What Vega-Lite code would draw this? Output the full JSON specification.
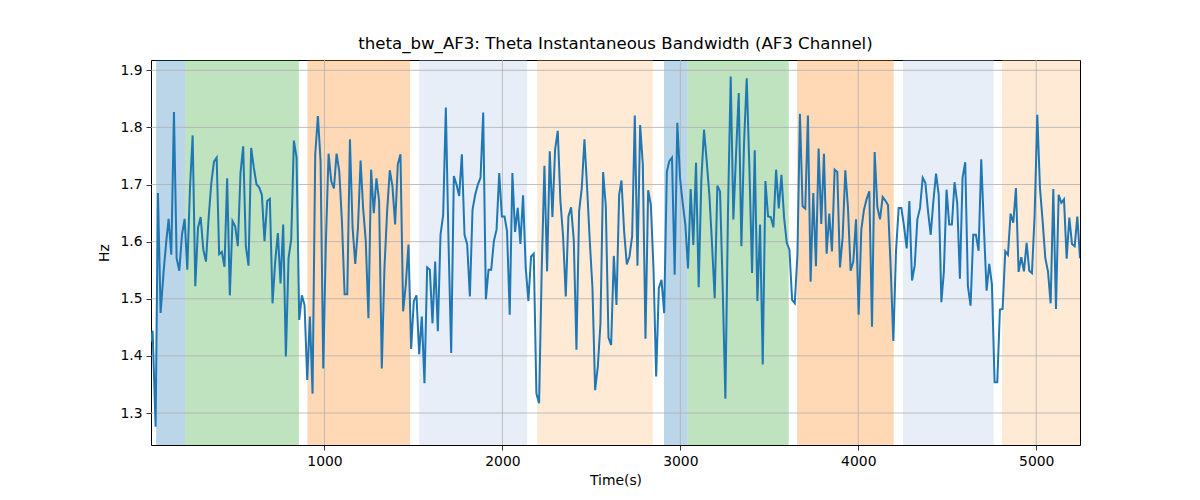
{
  "$schema": "https://vega.github.io/schema/vega-lite/v6.json",
  "width": 929,
  "height": 385,
  "autosize": {"type": "none"},
  "padding": {"left": 151, "top": 60, "right": 120, "bottom": 55},
  "background": "white",
  "title": {
    "text": "theta_bw_AF3: Theta Instantaneous Bandwidth (AF3 Channel)",
    "fontSize": 16.6,
    "fontWeight": "normal",
    "font": "DejaVu Sans",
    "color": "black",
    "offset": 7
  },
  "datasets": {
    "bands": [
      {"start": 54, "end": 217, "phase": "a"},
      {"start": 217, "end": 856, "phase": "b"},
      {"start": 904, "end": 1481, "phase": "c"},
      {"start": 1532, "end": 2139, "phase": "d"},
      {"start": 2195, "end": 2845, "phase": "e"},
      {"start": 2908, "end": 3040, "phase": "a"},
      {"start": 3040, "end": 3609, "phase": "b"},
      {"start": 3656, "end": 4199, "phase": "c"},
      {"start": 4251, "end": 4761, "phase": "d"},
      {"start": 4807, "end": 5246, "phase": "e"}
    ],
    "gridx": [{"v": 1000}, {"v": 2000}, {"v": 3000}, {"v": 4000}, {"v": 5000}],
    "gridy": [{"v": 1.3}, {"v": 1.4}, {"v": 1.5}, {"v": 1.6}, {"v": 1.7}, {"v": 1.8}, {"v": 1.9}],
    "series": [
      {"t": 25, "hz": 1.425}, {"t": 34, "hz": 1.444}, {"t": 51, "hz": 1.276}, {"t": 64, "hz": 1.685},
      {"t": 79, "hz": 1.475}, {"t": 96, "hz": 1.548}, {"t": 111, "hz": 1.601}, {"t": 124, "hz": 1.64},
      {"t": 139, "hz": 1.577}, {"t": 154, "hz": 1.827}, {"t": 169, "hz": 1.571}, {"t": 184, "hz": 1.549},
      {"t": 199, "hz": 1.612}, {"t": 214, "hz": 1.64}, {"t": 229, "hz": 1.551}, {"t": 244, "hz": 1.694},
      {"t": 259, "hz": 1.786}, {"t": 274, "hz": 1.522}, {"t": 289, "hz": 1.624}, {"t": 304, "hz": 1.643},
      {"t": 319, "hz": 1.586}, {"t": 334, "hz": 1.565}, {"t": 349, "hz": 1.642}, {"t": 364, "hz": 1.703},
      {"t": 379, "hz": 1.74}, {"t": 394, "hz": 1.747}, {"t": 408, "hz": 1.578}, {"t": 423, "hz": 1.582},
      {"t": 438, "hz": 1.556}, {"t": 453, "hz": 1.711}, {"t": 468, "hz": 1.506}, {"t": 483, "hz": 1.636},
      {"t": 498, "hz": 1.627}, {"t": 513, "hz": 1.592}, {"t": 528, "hz": 1.72}, {"t": 543, "hz": 1.767},
      {"t": 558, "hz": 1.592}, {"t": 573, "hz": 1.558}, {"t": 588, "hz": 1.764}, {"t": 603, "hz": 1.729},
      {"t": 618, "hz": 1.7}, {"t": 633, "hz": 1.695}, {"t": 648, "hz": 1.682}, {"t": 663, "hz": 1.601},
      {"t": 678, "hz": 1.671}, {"t": 693, "hz": 1.675}, {"t": 708, "hz": 1.492}, {"t": 723, "hz": 1.565},
      {"t": 738, "hz": 1.615}, {"t": 753, "hz": 1.527}, {"t": 768, "hz": 1.63}, {"t": 783, "hz": 1.399},
      {"t": 798, "hz": 1.571}, {"t": 813, "hz": 1.604}, {"t": 828, "hz": 1.777}, {"t": 843, "hz": 1.747},
      {"t": 858, "hz": 1.463}, {"t": 873, "hz": 1.506}, {"t": 888, "hz": 1.489}, {"t": 903, "hz": 1.358},
      {"t": 918, "hz": 1.469}, {"t": 933, "hz": 1.334}, {"t": 948, "hz": 1.753}, {"t": 963, "hz": 1.82},
      {"t": 978, "hz": 1.741}, {"t": 993, "hz": 1.378}, {"t": 1008, "hz": 1.601}, {"t": 1023, "hz": 1.754},
      {"t": 1038, "hz": 1.706}, {"t": 1053, "hz": 1.693}, {"t": 1068, "hz": 1.754}, {"t": 1083, "hz": 1.723},
      {"t": 1098, "hz": 1.636}, {"t": 1113, "hz": 1.508}, {"t": 1128, "hz": 1.508}, {"t": 1143, "hz": 1.779},
      {"t": 1158, "hz": 1.624}, {"t": 1173, "hz": 1.561}, {"t": 1188, "hz": 1.624}, {"t": 1203, "hz": 1.742},
      {"t": 1217, "hz": 1.659}, {"t": 1232, "hz": 1.601}, {"t": 1247, "hz": 1.466}, {"t": 1262, "hz": 1.726},
      {"t": 1277, "hz": 1.65}, {"t": 1292, "hz": 1.711}, {"t": 1307, "hz": 1.671}, {"t": 1322, "hz": 1.378},
      {"t": 1337, "hz": 1.554}, {"t": 1352, "hz": 1.653}, {"t": 1367, "hz": 1.725}, {"t": 1382, "hz": 1.697},
      {"t": 1397, "hz": 1.63}, {"t": 1412, "hz": 1.735}, {"t": 1427, "hz": 1.753}, {"t": 1442, "hz": 1.478},
      {"t": 1457, "hz": 1.525}, {"t": 1472, "hz": 1.595}, {"t": 1487, "hz": 1.412}, {"t": 1502, "hz": 1.496},
      {"t": 1517, "hz": 1.506}, {"t": 1532, "hz": 1.403}, {"t": 1547, "hz": 1.469}, {"t": 1562, "hz": 1.352},
      {"t": 1577, "hz": 1.555}, {"t": 1592, "hz": 1.551}, {"t": 1607, "hz": 1.457}, {"t": 1622, "hz": 1.565},
      {"t": 1637, "hz": 1.443}, {"t": 1652, "hz": 1.612}, {"t": 1667, "hz": 1.647}, {"t": 1682, "hz": 1.835},
      {"t": 1697, "hz": 1.601}, {"t": 1712, "hz": 1.405}, {"t": 1727, "hz": 1.715}, {"t": 1742, "hz": 1.7},
      {"t": 1757, "hz": 1.68}, {"t": 1772, "hz": 1.753}, {"t": 1787, "hz": 1.612}, {"t": 1802, "hz": 1.595},
      {"t": 1817, "hz": 1.504}, {"t": 1832, "hz": 1.656}, {"t": 1847, "hz": 1.682}, {"t": 1862, "hz": 1.7},
      {"t": 1877, "hz": 1.712}, {"t": 1892, "hz": 1.826}, {"t": 1907, "hz": 1.499}, {"t": 1922, "hz": 1.551},
      {"t": 1937, "hz": 1.551}, {"t": 1952, "hz": 1.601}, {"t": 1967, "hz": 1.621}, {"t": 1982, "hz": 1.72},
      {"t": 1997, "hz": 1.644}, {"t": 2012, "hz": 1.644}, {"t": 2026, "hz": 1.618}, {"t": 2041, "hz": 1.472},
      {"t": 2056, "hz": 1.72}, {"t": 2071, "hz": 1.617}, {"t": 2086, "hz": 1.659}, {"t": 2101, "hz": 1.596},
      {"t": 2116, "hz": 1.681}, {"t": 2131, "hz": 1.554}, {"t": 2146, "hz": 1.496}, {"t": 2161, "hz": 1.574},
      {"t": 2176, "hz": 1.579}, {"t": 2191, "hz": 1.334}, {"t": 2206, "hz": 1.317}, {"t": 2221, "hz": 1.554},
      {"t": 2236, "hz": 1.733}, {"t": 2251, "hz": 1.548}, {"t": 2266, "hz": 1.758}, {"t": 2281, "hz": 1.643},
      {"t": 2296, "hz": 1.761}, {"t": 2311, "hz": 1.794}, {"t": 2326, "hz": 1.671}, {"t": 2341, "hz": 1.609},
      {"t": 2356, "hz": 1.504}, {"t": 2371, "hz": 1.644}, {"t": 2386, "hz": 1.66}, {"t": 2401, "hz": 1.603},
      {"t": 2416, "hz": 1.411}, {"t": 2431, "hz": 1.653}, {"t": 2446, "hz": 1.694}, {"t": 2461, "hz": 1.779},
      {"t": 2476, "hz": 1.694}, {"t": 2491, "hz": 1.601}, {"t": 2506, "hz": 1.519}, {"t": 2521, "hz": 1.34},
      {"t": 2536, "hz": 1.381}, {"t": 2551, "hz": 1.457}, {"t": 2566, "hz": 1.722}, {"t": 2581, "hz": 1.662},
      {"t": 2596, "hz": 1.432}, {"t": 2611, "hz": 1.419}, {"t": 2626, "hz": 1.575}, {"t": 2641, "hz": 1.489},
      {"t": 2656, "hz": 1.682}, {"t": 2669, "hz": 1.707}, {"t": 2684, "hz": 1.618}, {"t": 2699, "hz": 1.56},
      {"t": 2714, "hz": 1.574}, {"t": 2729, "hz": 1.609}, {"t": 2744, "hz": 1.821}, {"t": 2759, "hz": 1.558},
      {"t": 2774, "hz": 1.804}, {"t": 2789, "hz": 1.735}, {"t": 2804, "hz": 1.43}, {"t": 2819, "hz": 1.69},
      {"t": 2834, "hz": 1.665}, {"t": 2849, "hz": 1.554}, {"t": 2864, "hz": 1.364}, {"t": 2879, "hz": 1.519},
      {"t": 2894, "hz": 1.533}, {"t": 2909, "hz": 1.475}, {"t": 2924, "hz": 1.722}, {"t": 2938, "hz": 1.741},
      {"t": 2953, "hz": 1.747}, {"t": 2968, "hz": 1.542}, {"t": 2983, "hz": 1.808}, {"t": 2998, "hz": 1.712},
      {"t": 3013, "hz": 1.668}, {"t": 3028, "hz": 1.63}, {"t": 3043, "hz": 1.553}, {"t": 3058, "hz": 1.692},
      {"t": 3073, "hz": 1.594}, {"t": 3088, "hz": 1.738}, {"t": 3103, "hz": 1.52}, {"t": 3118, "hz": 1.709},
      {"t": 3133, "hz": 1.796}, {"t": 3148, "hz": 1.741}, {"t": 3163, "hz": 1.682}, {"t": 3178, "hz": 1.595},
      {"t": 3193, "hz": 1.501}, {"t": 3208, "hz": 1.698}, {"t": 3223, "hz": 1.688}, {"t": 3238, "hz": 1.519},
      {"t": 3253, "hz": 1.325}, {"t": 3268, "hz": 1.659}, {"t": 3283, "hz": 1.889}, {"t": 3298, "hz": 1.639},
      {"t": 3313, "hz": 1.753}, {"t": 3328, "hz": 1.86}, {"t": 3343, "hz": 1.592}, {"t": 3358, "hz": 1.773},
      {"t": 3373, "hz": 1.886}, {"t": 3388, "hz": 1.729}, {"t": 3403, "hz": 1.545}, {"t": 3418, "hz": 1.76},
      {"t": 3433, "hz": 1.496}, {"t": 3448, "hz": 1.63}, {"t": 3463, "hz": 1.385}, {"t": 3478, "hz": 1.706},
      {"t": 3493, "hz": 1.644}, {"t": 3508, "hz": 1.643}, {"t": 3523, "hz": 1.625}, {"t": 3538, "hz": 1.726},
      {"t": 3553, "hz": 1.658}, {"t": 3568, "hz": 1.717}, {"t": 3583, "hz": 1.642}, {"t": 3598, "hz": 1.598},
      {"t": 3613, "hz": 1.586}, {"t": 3628, "hz": 1.498}, {"t": 3643, "hz": 1.492}, {"t": 3658, "hz": 1.577},
      {"t": 3672, "hz": 1.824}, {"t": 3687, "hz": 1.662}, {"t": 3702, "hz": 1.658}, {"t": 3717, "hz": 1.821},
      {"t": 3732, "hz": 1.53}, {"t": 3747, "hz": 1.685}, {"t": 3762, "hz": 1.557}, {"t": 3777, "hz": 1.763},
      {"t": 3792, "hz": 1.631}, {"t": 3807, "hz": 1.754}, {"t": 3822, "hz": 1.579}, {"t": 3837, "hz": 1.649},
      {"t": 3852, "hz": 1.583}, {"t": 3867, "hz": 1.726}, {"t": 3882, "hz": 1.722}, {"t": 3897, "hz": 1.555},
      {"t": 3912, "hz": 1.607}, {"t": 3927, "hz": 1.725}, {"t": 3942, "hz": 1.659}, {"t": 3957, "hz": 1.549},
      {"t": 3972, "hz": 1.565}, {"t": 3987, "hz": 1.639}, {"t": 4002, "hz": 1.472}, {"t": 4017, "hz": 1.621},
      {"t": 4032, "hz": 1.656}, {"t": 4047, "hz": 1.675}, {"t": 4062, "hz": 1.688}, {"t": 4077, "hz": 1.451},
      {"t": 4092, "hz": 1.757}, {"t": 4107, "hz": 1.661}, {"t": 4122, "hz": 1.639}, {"t": 4137, "hz": 1.678},
      {"t": 4152, "hz": 1.672}, {"t": 4167, "hz": 1.664}, {"t": 4182, "hz": 1.554}, {"t": 4197, "hz": 1.426},
      {"t": 4212, "hz": 1.583}, {"t": 4227, "hz": 1.659}, {"t": 4242, "hz": 1.659}, {"t": 4257, "hz": 1.627},
      {"t": 4272, "hz": 1.588}, {"t": 4287, "hz": 1.671}, {"t": 4302, "hz": 1.532}, {"t": 4317, "hz": 1.558},
      {"t": 4332, "hz": 1.639}, {"t": 4347, "hz": 1.659}, {"t": 4362, "hz": 1.712}, {"t": 4377, "hz": 1.703},
      {"t": 4392, "hz": 1.653}, {"t": 4407, "hz": 1.612}, {"t": 4422, "hz": 1.671}, {"t": 4437, "hz": 1.719},
      {"t": 4452, "hz": 1.682}, {"t": 4467, "hz": 1.494}, {"t": 4481, "hz": 1.548}, {"t": 4496, "hz": 1.691},
      {"t": 4511, "hz": 1.63}, {"t": 4526, "hz": 1.63}, {"t": 4541, "hz": 1.704}, {"t": 4556, "hz": 1.668},
      {"t": 4571, "hz": 1.535}, {"t": 4586, "hz": 1.712}, {"t": 4601, "hz": 1.739}, {"t": 4616, "hz": 1.522},
      {"t": 4631, "hz": 1.488}, {"t": 4646, "hz": 1.612}, {"t": 4661, "hz": 1.612}, {"t": 4676, "hz": 1.584},
      {"t": 4691, "hz": 1.744}, {"t": 4706, "hz": 1.624}, {"t": 4721, "hz": 1.514}, {"t": 4736, "hz": 1.561},
      {"t": 4751, "hz": 1.525}, {"t": 4766, "hz": 1.354}, {"t": 4781, "hz": 1.354}, {"t": 4796, "hz": 1.481},
      {"t": 4811, "hz": 1.482}, {"t": 4826, "hz": 1.583}, {"t": 4841, "hz": 1.577}, {"t": 4856, "hz": 1.649},
      {"t": 4871, "hz": 1.633}, {"t": 4886, "hz": 1.694}, {"t": 4901, "hz": 1.547}, {"t": 4916, "hz": 1.573},
      {"t": 4931, "hz": 1.548}, {"t": 4946, "hz": 1.598}, {"t": 4961, "hz": 1.549}, {"t": 4976, "hz": 1.545},
      {"t": 4991, "hz": 1.647}, {"t": 5006, "hz": 1.822}, {"t": 5021, "hz": 1.694}, {"t": 5036, "hz": 1.636},
      {"t": 5051, "hz": 1.571}, {"t": 5066, "hz": 1.548}, {"t": 5081, "hz": 1.492}, {"t": 5096, "hz": 1.692},
      {"t": 5111, "hz": 1.482}, {"t": 5126, "hz": 1.682}, {"t": 5141, "hz": 1.668}, {"t": 5156, "hz": 1.674},
      {"t": 5171, "hz": 1.57}, {"t": 5186, "hz": 1.642}, {"t": 5201, "hz": 1.596}, {"t": 5216, "hz": 1.592},
      {"t": 5231, "hz": 1.644}, {"t": 5246, "hz": 1.571}
    ]
  },
  "layer": [
    {
      "data": {"name": "bands"},
      "mark": {"type": "rect", "opacity": 0.3, "clip": true},
      "encoding": {
        "x": {"field": "start", "type": "quantitative"},
        "x2": {"field": "end"},
        "color": {
          "field": "phase",
          "type": "nominal",
          "legend": null,
          "scale": {
            "domain": ["a", "b", "c", "d", "e"],
            "range": ["#1f77b4", "#2ca02c", "#ff7f0e", "#aec7e8", "#ffbb78"]
          }
        }
      }
    },
    {
      "data": {"name": "gridx"},
      "mark": {"type": "rule", "color": "#b0b0b0", "strokeWidth": 0.8},
      "encoding": {"x": {"field": "v", "type": "quantitative"}}
    },
    {
      "data": {"name": "gridy"},
      "mark": {"type": "rule", "color": "#b0b0b0", "strokeWidth": 0.8},
      "encoding": {"y": {"field": "v", "type": "quantitative"}}
    },
    {
      "data": {"name": "series"},
      "mark": {"type": "line", "color": "#1f77b4", "strokeWidth": 2, "clip": true},
      "encoding": {
        "x": {
          "field": "t",
          "type": "quantitative",
          "title": "Time(s)",
          "scale": {"domain": [25, 5246], "nice": false, "zero": false},
          "axis": {"values": [1000, 2000, 3000, 4000, 5000], "format": "d"}
        },
        "y": {
          "field": "hz",
          "type": "quantitative",
          "title": "Hz",
          "scale": {"domain": [1.244, 1.918], "nice": false, "zero": false},
          "axis": {"values": [1.3, 1.4, 1.5, 1.6, 1.7, 1.8, 1.9], "format": ".1f"}
        }
      }
    }
  ],
  "config": {
    "font": "DejaVu Sans",
    "view": {"stroke": "black", "strokeWidth": 1},
    "axis": {
      "grid": false,
      "domain": false,
      "tickColor": "black",
      "tickSize": 5,
      "tickWidth": 0.8,
      "labelColor": "black",
      "labelFontSize": 13.9,
      "labelPadding": 4,
      "titleColor": "black",
      "titleFontSize": 13.9,
      "titleFontWeight": "normal"
    },
    "axisX": {"titlePadding": 6},
    "axisY": {"titlePadding": 8}
  }
}
